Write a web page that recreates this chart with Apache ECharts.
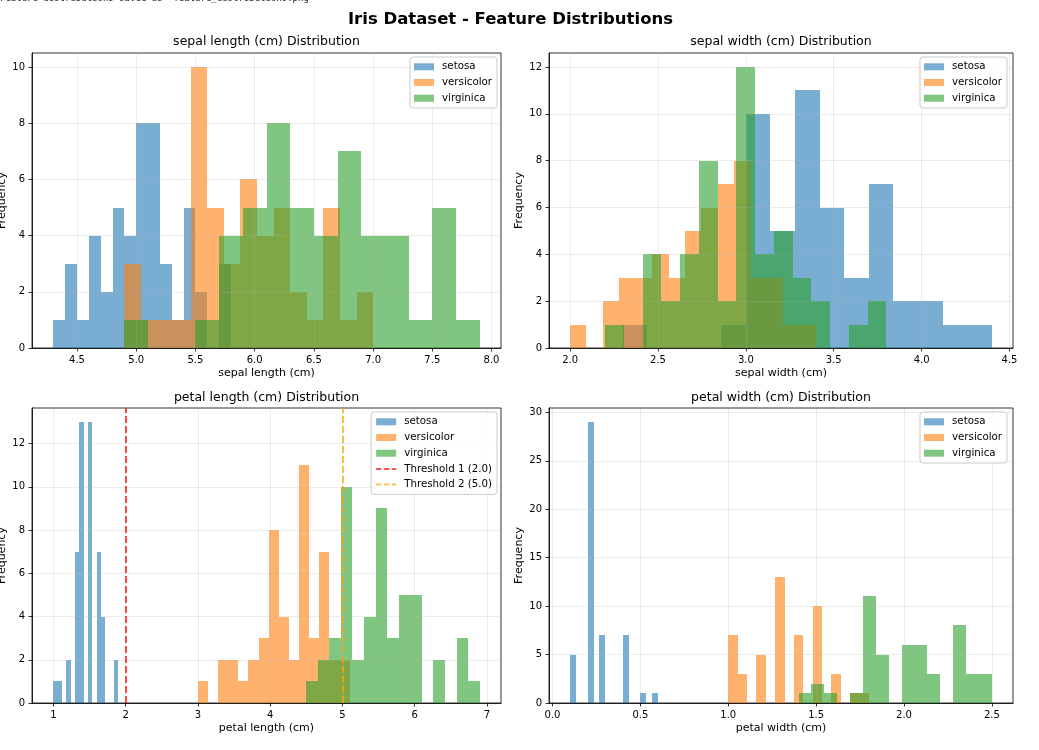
<!DOCTYPE html>
<html>
<head>
<meta charset="utf-8">
<script src="https://cdn.jsdelivr.net/npm/echarts@6/dist/echarts.min.js"></script>
<style>
html, body { margin: 0; padding: 0; background: #ffffff; }
#chart { width: 1039px; height: 750px; }
</style>
</head>
<body>
<div id="chart"></div>
<script>
// ---------------- data ----------------
const speciesNames = ['setosa', 'versicolor', 'virginica'];
const featureNames = ['sepal length (cm)', 'sepal width (cm)', 'petal length (cm)', 'petal width (cm)'];

// each species: 15 equal-width bins between its own [min, max]
const sepalLengthRanges = [[4.3, 5.8], [4.9, 7.0], [4.9, 7.9]];
const sepalLengthCounts = [
  [1, 3, 1, 4, 2, 5, 4, 8, 8, 3, 1, 5, 2, 0, 3],
  [3, 1, 1, 1, 10, 5, 3, 6, 4, 5, 2, 1, 5, 1, 2],
  [1, 0, 0, 1, 4, 5, 8, 5, 4, 7, 4, 4, 1, 5, 1]
];

const sepalWidthRanges = [[2.3, 4.4], [2.0, 3.4], [2.2, 3.8]];
const sepalWidthCounts = [
  [1, 0, 0, 0, 1, 10, 5, 11, 6, 3, 7, 2, 2, 1, 1],
  [1, 0, 2, 3, 3, 4, 3, 5, 6, 7, 8, 3, 3, 1, 1],
  [1, 0, 4, 2, 4, 8, 2, 12, 4, 5, 3, 2, 0, 1, 2]
];

const petalLengthRanges = [[1.0, 1.9], [3.0, 5.1], [4.5, 6.9]];
const petalLengthCounts = [
  [1, 1, 0, 2, 0, 7, 13, 0, 13, 0, 7, 4, 0, 0, 2],
  [1, 0, 2, 2, 1, 2, 3, 8, 4, 2, 11, 3, 7, 2, 2],
  [1, 2, 3, 10, 2, 4, 9, 3, 5, 5, 0, 2, 0, 3, 1]
];

const petalWidthRanges = [[0.1, 0.6], [1.0, 1.8], [1.4, 2.5]];
const petalWidthCounts = [
  [5, 0, 0, 29, 0, 7, 0, 0, 0, 7, 0, 0, 1, 0, 1],
  [7, 3, 0, 5, 0, 13, 0, 7, 0, 10, 0, 3, 0, 1, 1],
  [1, 2, 1, 0, 1, 11, 5, 0, 6, 6, 3, 0, 8, 3, 3]
];

const thresholdNames = ['Threshold 1 (2.0)', 'Threshold 2 (5.0)'];
const thresholdValues = [2.0, 5.0];

const xTickValues = [
  [4.5, 5.0, 5.5, 6.0, 6.5, 7.0, 7.5, 8.0],
  [2.0, 2.5, 3.0, 3.5, 4.0, 4.5],
  [1, 2, 3, 4, 5, 6, 7],
  [0.0, 0.5, 1.0, 1.5, 2.0, 2.5]
];
const yTickValues = [
  [0, 2, 4, 6, 8, 10],
  [0, 2, 4, 6, 8, 10, 12],
  [0, 2, 4, 6, 8, 10, 12],
  [0, 5, 10, 15, 20, 25, 30]
];
const xTickDecimals = [1, 1, 0, 1];

const mainTitle = 'Iris Dataset - Feature Distributions';
const consoleLine = "Feature distributions saved as 'feature_distributions.png'";

// ---------------- styling / layout ----------------
const FONT = 'DejaVu Sans';
const speciesColors = ['rgba(31,119,180,0.6)', 'rgba(255,127,14,0.6)', 'rgba(44,160,44,0.6)'];
const thresholdColors = ['rgba(255,0,0,0.7)', 'rgba(255,165,0,0.7)'];
const gridBoxes = [
  { left: 32, top: 53, width: 469, height: 295 },
  { left: 549, top: 53, width: 464, height: 295 },
  { left: 32, top: 408, width: 469, height: 295 },
  { left: 549, top: 408, width: 464, height: 295 }
];
const legendPos = [
  { right: 542, top: 57 },
  { right: 32, top: 57 },
  { right: 542, top: 412 },
  { right: 32, top: 412 }
];

const allRanges = [sepalLengthRanges, sepalWidthRanges, petalLengthRanges, petalWidthRanges];
const allCounts = [sepalLengthCounts, sepalWidthCounts, petalLengthCounts, petalWidthCounts];

function binsFor(range, counts) {
  const lo = range[0], hi = range[1];
  const w = (hi - lo) / counts.length;
  const out = [];
  counts.forEach(function (c, i) {
    if (c > 0) out.push([lo + i * w, lo + (i + 1) * w, c]);
  });
  return out;
}

function histRenderer(color) {
  return function (params, api) {
    const a = api.coord([api.value(0), api.value(2)]);
    const b = api.coord([api.value(1), 0]);
    const L = Math.round(a[0]), R = Math.round(b[0]);
    const T = Math.round(a[1]);
    return {
      type: 'rect',
      shape: { x: L, y: T, width: R - L, height: b[1] - T },
      style: { fill: color }
    };
  };
}

const grids = [], xAxes = [], yAxes = [], series = [], legends = [], graphics = [];

for (let g = 0; g < 4; g++) {
  const box = gridBoxes[g];
  grids.push({
    left: box.left, top: box.top, width: box.width, height: box.height,
    containLabel: false, outerBoundsMode: 'none',
    show: true, borderColor: '#000', borderWidth: 0.8, backgroundColor: 'transparent'
  });

  let lo = Infinity, hi = -Infinity, cmax = 0;
  allRanges[g].forEach(function (r) { lo = Math.min(lo, r[0]); hi = Math.max(hi, r[1]); });
  allCounts[g].forEach(function (arr) { arr.forEach(function (c) { cmax = Math.max(cmax, c); }); });
  const pad = 0.05 * (hi - lo);
  const dec = xTickDecimals[g];

  xAxes.push({
    type: 'value', gridIndex: g, min: lo - pad, max: hi + pad, z: 3,
    name: featureNames[g], nameLocation: 'middle', nameGap: 20,
    nameTextStyle: { fontFamily: FONT, fontSize: 11, color: '#000' },
    axisLine: { show: true, onZero: false, lineStyle: { color: '#000', width: 0.8 } },
    axisTick: { show: true, inside: false, length: 3.5, lineStyle: { color: '#000', width: 0.8 }, customValues: xTickValues[g] },
    axisLabel: {
      customValues: xTickValues[g], margin: 7, fontFamily: FONT, fontSize: 10, color: '#000',
      formatter: function (v) { return Number(v).toFixed(dec); }
    },
    splitLine: { show: true, lineStyle: { color: 'rgba(176,176,176,0.3)', width: 0.8 } }
  });

  yAxes.push({
    type: 'value', gridIndex: g, min: 0, max: cmax * 1.05, z: 3,
    name: 'Frequency', nameLocation: 'middle', nameGap: 24,
    nameTextStyle: { fontFamily: FONT, fontSize: 11, color: '#000' },
    axisLine: { show: true, onZero: false, lineStyle: { color: '#000', width: 0.8 } },
    axisTick: { show: true, inside: false, length: 3.5, lineStyle: { color: '#000', width: 0.8 }, customValues: yTickValues[g] },
    axisLabel: {
      customValues: yTickValues[g], margin: 7, fontFamily: FONT, fontSize: 10, color: '#000',
      formatter: function (v) { return String(Math.round(v)); }
    },
    splitLine: { show: true, lineStyle: { color: 'rgba(176,176,176,0.3)', width: 0.8 } }
  });

  for (let s = 0; s < 3; s++) {
    series.push({
      type: 'custom',
      name: speciesNames[s],
      xAxisIndex: g, yAxisIndex: g,
      data: binsFor(allRanges[g][s], allCounts[g][s]),
      encode: { x: [0, 1], y: 2 },
      itemStyle: { color: speciesColors[s] },
      renderItem: histRenderer(speciesColors[s]),
      silent: true, z: 2, clip: true
    });
  }

  const legendData = speciesNames.map(function (n) { return { name: n, icon: 'rect' }; });
  if (g === 2) {
    thresholdNames.forEach(function (n) { legendData.push({ name: n, itemStyle: { opacity: 0 } }); });
  }
  legends.push({
    orient: 'vertical', right: legendPos[g].right, top: legendPos[g].top,
    data: legendData, selectedMode: false,
    itemWidth: 20, itemHeight: 7, itemGap: 3.7,
    padding: [3.8, 5, 3.8, 4],
    backgroundColor: 'rgba(255,255,255,0.8)', borderColor: '#cccccc', borderWidth: 1, borderRadius: 3,
    textStyle: { fontFamily: FONT, fontSize: 10.25, color: '#000', lineHeight: 12, padding: [0, 0, 0, 3] },
    z: 10
  });

  graphics.push({
    type: 'text', x: box.left + box.width / 2, y: g < 2 ? 42 : 397.5, silent: true,
    style: {
      text: featureNames[g] + ' Distribution', fill: '#000',
      fontFamily: FONT, fontSize: 12.5, align: 'center', verticalAlign: 'middle'
    }
  });
}

thresholdNames.forEach(function (n, k) {
  series.push({
    type: 'line', name: n, xAxisIndex: 2, yAxisIndex: 2, data: [],
    symbol: 'none',
    itemStyle: { color: thresholdColors[k] },
    lineStyle: { color: thresholdColors[k], type: [5, 3], width: 2 },
    z: 5,
    markLine: {
      silent: true, symbol: ['none', 'none'], label: { show: false },
      emphasis: { disabled: true },
      lineStyle: { color: thresholdColors[k], type: [7, 3], width: 2 },
      data: [{ xAxis: thresholdValues[k] }]
    }
  });
});

graphics.push({
  type: 'text', x: 510.5, y: 20, silent: true,
  style: { text: mainTitle, fill: '#000', fontFamily: FONT, fontSize: 16.5, fontWeight: 'bold', align: 'center', verticalAlign: 'middle' }
});
graphics.push({
  type: 'text', x: 0, y: 3, silent: true,
  style: { text: consoleLine, fill: '#222', fontFamily: 'DejaVu Sans Mono', fontSize: 9, align: 'left', verticalAlign: 'bottom' }
});

const chart = echarts.init(document.getElementById('chart'), null, { renderer: 'canvas' });
chart.setOption({
  animation: false,
  backgroundColor: '#ffffff',
  grid: grids,
  xAxis: xAxes,
  yAxis: yAxes,
  legend: legends,
  graphic: graphics,
  series: series
});
</script>
</body>
</html>
